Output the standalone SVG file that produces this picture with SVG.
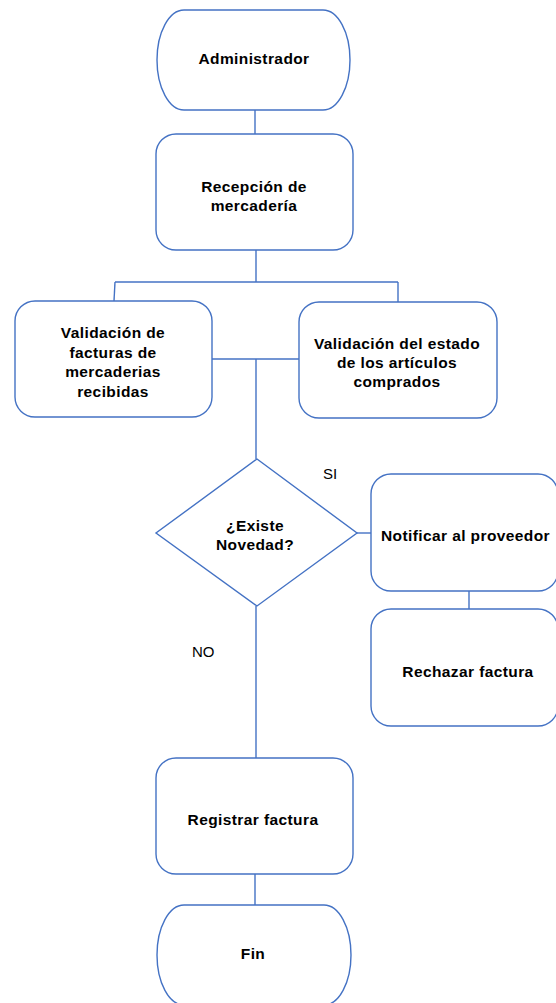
<svg xmlns="http://www.w3.org/2000/svg" width="556" height="1003" viewBox="0 0 556 1003">
<style>
.shape{fill:#fff;stroke:#4472C4;stroke-width:1.4}
.conn{fill:none;stroke:#4472C4;stroke-width:1.4}
.t{font-family:"Liberation Sans",Arial,sans-serif;font-size:15.5px;font-weight:bold;fill:#000;letter-spacing:0.4px;text-anchor:middle}
.lbl{font-family:"Liberation Sans",Arial,sans-serif;font-size:15px;fill:#000}
</style>
<rect width="556" height="1003" fill="#fff"/>
<g id="connectors">
<path class="conn" d="M255,110 V134"/>
<path class="conn" d="M256,250 V282"/>
<path class="conn" d="M115,282 H398"/>
<path class="conn" d="M115,282 L114,301"/>
<path class="conn" d="M398,282 V302"/>
<path class="conn" d="M212,359 H299"/>
<path class="conn" d="M256,359 V459"/>
<path class="conn" d="M357,533 H371"/>
<path class="conn" d="M469,591 V609"/>
<path class="conn" d="M256,606 V758"/>
<path class="conn" d="M255,874 V905"/>
</g>
<g id="n-admin">
<path class="shape" d="M184,10 H323 A27,50 0 0 1 323,110 H184 A27,50 0 0 1 184,10 Z"/>
<text class="t" x="254" y="64">Administrador</text>
</g>
<g id="n-recepcion">
<rect class="shape" x="156" y="134" width="197" height="116" rx="20"/>
<text class="t" x="254" y="192">Recepción de</text>
<text class="t" x="254" y="211">mercadería</text>
</g>
<g id="n-valfact">
<rect class="shape" x="15" y="301" width="197" height="116" rx="20"/>
<text class="t" x="113" y="338">Validación de</text>
<text class="t" x="113" y="357.5">facturas de</text>
<text class="t" x="113" y="377">mercaderias</text>
<text class="t" x="113" y="396.5">recibidas</text>
</g>
<g id="n-valestado">
<rect class="shape" x="299" y="302" width="198" height="116" rx="20"/>
<text class="t" x="397" y="349">Validación del estado</text>
<text class="t" x="397" y="368">de los artículos</text>
<text class="t" x="397" y="387">comprados</text>
</g>
<g id="n-decision">
<path class="shape" d="M257,459 L357,533 L257,606 L156,533 Z"/>
<text class="t" x="255" y="531">¿Existe</text>
<text class="t" x="255" y="550">Novedad?</text>
</g>
<g id="n-notificar">
<rect class="shape" x="371" y="474" width="187" height="117" rx="20"/>
<text class="t" x="381" y="541" style="text-anchor:start">Notificar al proveedor</text>
</g>
<g id="n-rechazar">
<rect class="shape" x="371" y="609" width="187" height="117" rx="20"/>
<text class="t" x="468" y="677">Rechazar factura</text>
</g>
<g id="n-registrar">
<rect class="shape" x="156" y="758" width="197" height="116" rx="20"/>
<text class="t" x="253" y="825">Registrar factura</text>
</g>
<g id="n-fin">
<path class="shape" d="M184,905 H324 A27,50 0 0 1 324,1005 H184 A27,50 0 0 1 184,905 Z"/>
<text class="t" x="253" y="959">Fin</text>
</g>
<g id="labels">
<text class="lbl" x="323" y="479">SI</text>
<text class="lbl" x="192" y="657">NO</text>
</g>
</svg>
